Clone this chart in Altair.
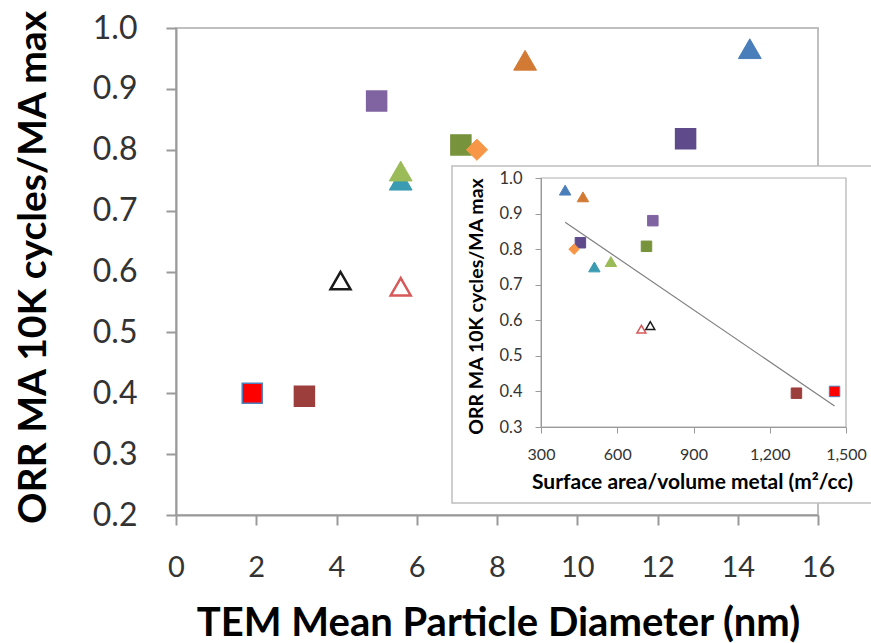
import altair as alt
import pandas as pd

# ---------------- data ----------------
series = ["blue_tri", "orange_tri", "purple_sq", "darkpurple_sq", "olive_sq", "orange_dia",
          "teal_tri", "green_tri", "red_open_tri", "black_open_tri", "brown_sq", "red_sq"]
diameter_nm = [14.3, 8.7, 5.0, 12.7, 7.1, 7.5, 5.6, 5.6, 5.6, 4.1, 3.2, 1.9]
ma_ratio = [0.966, 0.947, 0.880, 0.818, 0.808, 0.800, 0.750, 0.765, 0.575, 0.585, 0.395, 0.400]
surface_area = [395, 465, 740, 455, 715, 430, 510, 575, 695, 730, 1305, 1455]

fill_colors = ["#4A7EBB", "#D27A33", "#8064A2", "#5F4B8B", "#77933C", "#F79646",
               "#3A9BB2", "#9BBB59", "#FFFFFF", "#FFFFFF", "#9C3F3C", "#FF0000"]
stroke_colors = ["#4A7EBB", "#D27A33", "#8064A2", "#5F4B8B", "#77933C", "#F79646",
                 "#3A9BB2", "#9BBB59", "#D65A5A", "#1A1A1A", "#9C3F3C", "#4F81BD"]

squares = ["purple_sq", "darkpurple_sq", "olive_sq", "brown_sq", "red_sq"]
triangles = ["blue_tri", "orange_tri", "teal_tri", "green_tri"]
diamonds = ["orange_dia"]
open_triangles = ["red_open_tri", "black_open_tri"]

main_x_domain = [0, 16]
main_y_domain = [0.2, 1.0]
main_x_ticks = [0, 2, 4, 6, 8, 10, 12, 14, 16]
main_y_ticks = [0.2, 0.3, 0.4, 0.5, 0.6, 0.7, 0.8, 0.9, 1.0]

inset_x_domain = [300, 1500]
inset_y_domain = [0.3, 1.0]
inset_x_ticks = [300, 600, 900, 1200, 1500]
inset_y_ticks = [0.3, 0.4, 0.5, 0.6, 0.7, 0.8, 0.9, 1.0]

df = pd.DataFrame({"series": series, "diameter": diameter_nm,
                   "ma": ma_ratio, "surface": surface_area})
main_box = pd.DataFrame({"x0": [main_x_domain[0]], "x1": [main_x_domain[1]],
                         "y0": [main_y_domain[0]], "y1": [main_y_domain[1]]})
inset_box = pd.DataFrame({"x0": [inset_x_domain[0]], "x1": [inset_x_domain[1]],
                          "y0": [inset_y_domain[0]], "y1": [inset_y_domain[1]]})

# ---------------- layout ----------------
W, H = 642, 487
PAD = {"left": 176, "top": 28, "right": 53, "bottom": 128}
# inset plot area in plot coordinates
IX0, IX1 = 541 - 176, 846 - 176
IY0, IY1 = 427 - 28, 178 - 28

FONT = "Lato"
AX_GRAY = "#9A9A9A"

xs_main = alt.Scale(domain=main_x_domain, nice=False, zero=False)
ys_main = alt.Scale(domain=main_y_domain, nice=False, zero=False)
xs_in = alt.Scale(domain=inset_x_domain, range=[IX0, IX1], nice=False, zero=False)
ys_in = alt.Scale(domain=inset_y_domain, range=[IY0, IY1], nice=False, zero=False)

fill_scale = alt.Scale(domain=series, range=fill_colors)
stroke_scale = alt.Scale(domain=series, range=stroke_colors)


def points(xf, xs, ys, members, shape, size, sw):
    return alt.Chart(df).transform_filter(
        alt.FieldOneOfPredicate(field="series", oneOf=members)
    ).mark_point(shape=shape, size=size, filled=True, opacity=1, strokeWidth=sw).encode(
        x=alt.X(f"{xf}:Q", scale=xs, axis=None),
        y=alt.Y("ma:Q", scale=ys, axis=None),
        fill=alt.Fill("series:N", scale=fill_scale, legend=None),
        stroke=alt.Stroke("series:N", scale=stroke_scale, legend=None),
    )


main_xaxis = alt.Axis(values=main_x_ticks, title="TEM Mean Particle Diameter (nm)", grid=False,
                      domainColor=AX_GRAY, domainWidth=2, tickColor=AX_GRAY, tickWidth=2, tickSize=10,
                      labelFont=FONT, labelFontSize=29, labelColor="#333333", labelPadding=28,
                      labelFlush=False, labelOverlap=False,
                      titleFont=FONT, titleFontSize=40, titleFontWeight="bold", titleColor="#000000",
                      titleBaseline="alphabetic", titleX=322, titleY=120, zindex=1)
main_yaxis = alt.Axis(values=main_y_ticks, format=".1f", title="ORR MA 10K cycles/MA max", grid=False,
                      domainColor=AX_GRAY, domainWidth=2, tickColor=AX_GRAY, tickWidth=2, tickSize=10,
                      labelFont=FONT, labelFontSize=32, labelColor="#333333", labelPadding=29,
                      labelFlush=False, labelOverlap=False,
                      titleFont=FONT, titleFontSize=39, titleFontWeight="bold", titleColor="#000000",
                      titleBaseline="alphabetic", titleX=-131, titleY=239, zindex=1)

main_border = alt.Chart(main_box).mark_rect(fillOpacity=0, stroke="#BFBFBF", strokeWidth=2).encode(
    x=alt.X("x0:Q", scale=xs_main, axis=main_xaxis), x2="x1:Q",
    y=alt.Y("y0:Q", scale=ys_main, axis=main_yaxis), y2="y1:Q",
)

inset_frame = alt.Chart(pd.DataFrame({"k": [0]})).mark_rect(
    fill="white", stroke="#BFBFBF", strokeWidth=1.5
).encode(x=alt.value(452 - 176), x2=alt.value(890 - 176),
         y=alt.value(166 - 28), y2=alt.value(503 - 28))

inset_xaxis = alt.Axis(values=inset_x_ticks, format=",d", title="Surface area/volume metal (m²/cc)",
                       orient="bottom", offset=IY0 - H, grid=False,
                       domainColor=AX_GRAY, tickColor=AX_GRAY, tickSize=6,
                       labelFont=FONT, labelFontSize=16, labelColor="#333333", labelPadding=13,
                       labelFlush=False, labelOverlap=False,
                       titleFont=FONT, titleFontSize=21, titleFontWeight="bold", titleColor="#000000",
                       titleBaseline="alphabetic", titleX=516, titleY=61, zindex=1)
inset_yaxis = alt.Axis(values=inset_y_ticks, format=".1f", title="ORR MA 10K cycles/MA max",
                       orient="left", offset=-IX0, grid=False,
                       domainColor=AX_GRAY, tickColor=AX_GRAY, tickSize=6,
                       labelFont=FONT, labelFontSize=16.5, labelColor="#333333", labelPadding=13,
                       labelFlush=False, labelOverlap=False,
                       titleFont=FONT, titleFontSize=19.5, titleFontWeight="bold", titleColor="#000000",
                       titleBaseline="alphabetic", titleX=-59, titleY=278, zindex=1)

inset_border = alt.Chart(inset_box).mark_rect(fillOpacity=0, stroke="#B0B0B0", strokeWidth=1.2).encode(
    x=alt.X("x0:Q", scale=xs_in, axis=inset_xaxis), x2="x1:Q",
    y=alt.Y("y0:Q", scale=ys_in, axis=inset_yaxis), y2="y1:Q",
)

trend = alt.Chart(df).transform_regression("surface", "ma").mark_line(
    color="#7F7F7F", strokeWidth=1.2
).encode(
    x=alt.X("surface:Q", scale=xs_in, axis=None),
    y=alt.Y("ma:Q", scale=ys_in, axis=None),
)

layers = [
    main_border,
    points("diameter", xs_main, ys_main, squares, "square", 400, 1.5),
    points("diameter", xs_main, ys_main, triangles, "triangle-up", 520, 1),
    points("diameter", xs_main, ys_main, diamonds, "diamond", 450, 1),
    points("diameter", xs_main, ys_main, open_triangles, "triangle-up", 400, 2.5),
    inset_frame,
    inset_border,
    trend,
    points("surface", xs_in, ys_in, squares, "square", 110, 1),
    points("surface", xs_in, ys_in, triangles, "triangle-up", 130, 1),
    points("surface", xs_in, ys_in, diamonds, "diamond", 110, 1),
    points("surface", xs_in, ys_in, open_triangles, "triangle-up", 80, 1.5),
]

chart = alt.layer(*layers).resolve_scale(x="independent", y="independent").properties(
    width=W, height=H, autosize="none", padding=PAD, background="white"
).configure_view(stroke=None)

chart.save("out.html", embed_options={"renderer": "svg", "actions": False})
